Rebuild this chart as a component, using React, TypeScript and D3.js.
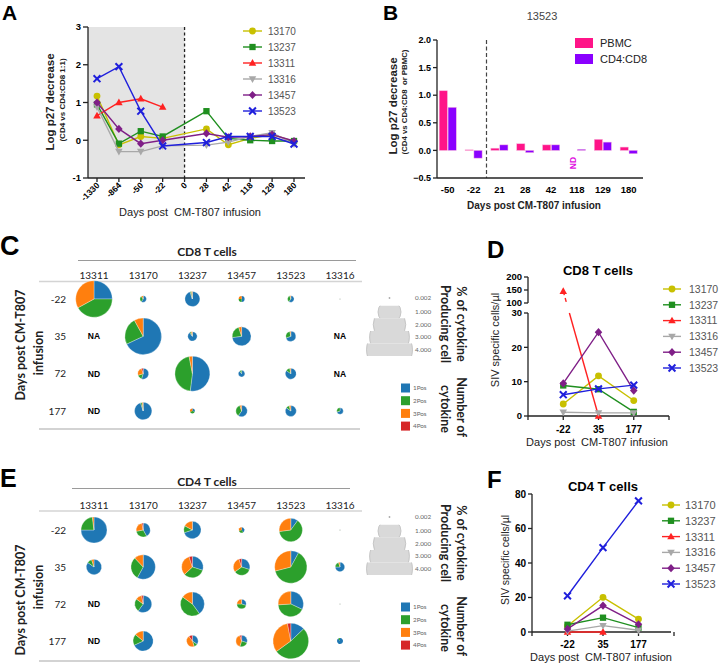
import React from "react";
import * as d3 from "d3";

const AR = "'Liberation Sans', Arial, Helvetica, sans-serif";
const CAL = "Lato, 'Open Sans', sans-serif";

// ---------- shared animals ----------
const animals = ["13170", "13237", "13311", "13316", "13457", "13523"];
const animalColors = ["#c8c000", "#1f8f1f", "#ff2222", "#a8a8a8", "#7f1f87", "#1f1fdc"];
const animalShapes = ["circle", "square", "triangle", "triangleDown", "diamond", "x"];

// ---------- Panel A ----------
const aDays = ["-1330", "-864", "-50", "-22", "0", "28", "42", "118", "129", "180"];
const a13170 = [1.17, -0.12, 0.1, 0.05, null, 0.3, -0.12, 0.05, 0.15, -0.03];
const a13237 = [0.95, -0.09, 0.24, 0.1, null, 0.77, 0.05, 0.0, -0.02, -0.02];
const a13311 = [0.65, 1.0, 1.1, 0.88, null, null, null, null, null, null];
const a13316 = [0.88, -0.3, -0.3, -0.15, null, -0.13, -0.05, 0.1, 0.2, -0.1];
const a13457 = [1.0, 0.3, -0.09, 0.0, null, 0.18, 0.08, 0.1, 0.15, -0.02];
const a13523 = [1.63, 1.95, 0.77, -0.15, null, -0.06, 0.1, 0.1, 0.1, -0.1];
const aTicks = [-1, 0, 1, 2, 3];

// ---------- Panel B ----------
const bDays = ["-50", "-22", "21", "28", "42", "118", "129", "180"];
const bSeries = ["PBMC", "CD4:CD8"];
const bColors = ["#ff1488", "#8a00ff"];
const bPBMC = [1.08, 0.01, 0.04, 0.12, 0.1, null, 0.2, 0.06];
const bCD4CD8 = [0.78, -0.14, 0.1, -0.04, 0.1, 0.02, 0.15, -0.06];
const bTicks = [-0.5, 0, 0.5, 1.0, 1.5, 2.0];

// ---------- Panels C / E ----------
const pieCols = ["13311", "13170", "13237", "13457", "13523", "13316"];
const pieRows = ["-22", "35", "72", "177"];
const mixKeys = ["1Pos", "2Pos", "3Pos", "4Pos"];
const mixColors = ["#1f77b4", "#2ca02c", "#ff7f0e", "#d62728"];
const sizeLegend = [0.002, 1, 2, 3, 4];

const cd8Pct = [
  [2.53, 0.082, 0.425, 0.068, 0.082, 0.002],
  [null, 2.53, 0.167, 0.68, 0.19, null],
  [null, 0.23, 2.32, 0.082, 0.23, null],
  [null, 0.57, 0.047, 0.25, 0.23, 0.082],
];
const cd8Note = [
  ["", "", "", "", "", ""],
  ["NA", "", "", "", "", "NA"],
  ["ND", "", "", "", "", "NA"],
  ["ND", "", "", "", "", ""],
];
const cd8Mix = [
  [[0.25, 0.42, 0.33, 0], [0.6, 0.3, 0.1, 0], [0.95, 0.03, 0.02, 0], [0.5, 0.25, 0.25, 0], [0.6, 0.35, 0.05, 0], [0.5, 0.5, 0, 0]],
  [null, [0.68, 0.24, 0.08, 0], [0.9, 0.05, 0.05, 0], [0.73, 0.22, 0.05, 0], [0.7, 0.27, 0.03, 0], null],
  [null, [0.55, 0.15, 0.25, 0.05], [0.52, 0.45, 0.03, 0], [0.9, 0.1, 0, 0], [0.85, 0.12, 0.03, 0], null],
  [null, [0.95, 0.03, 0.02, 0], [0.3, 0.4, 0.3, 0], [0.6, 0.35, 0.05, 0], [0.85, 0.1, 0.05, 0], [0.7, 0.3, 0, 0]],
];

const cd4Pct = [
  [1.28, 0.37, 0.57, 0.059, 1.03, 0.002],
  [0.45, 1.13, 0.88, 0.52, 1.98, 0.17],
  [null, 0.55, 1.09, 0.17, 1.22, 0.002],
  [null, 0.76, 0.25, 0.25, 2.4, 0.068],
];
const cd4Note = [
  ["", "", "", "", "", ""],
  ["", "", "", "", "", ""],
  ["ND", "", "", "", "", ""],
  ["ND", "", "", "", "", ""],
];
const cd4Mix = [
  [[0.75, 0.23, 0.02, 0], [0.42, 0.3, 0.25, 0.03], [0.7, 0.13, 0.17, 0], [0.4, 0.3, 0.3, 0], [0.1, 0.63, 0.27, 0], [0.5, 0.5, 0, 0]],
  [[0.85, 0.1, 0.05, 0], [0.58, 0.3, 0.12, 0], [0.3, 0.33, 0.32, 0.05], [0.3, 0.35, 0.3, 0.05], [0.08, 0.63, 0.29, 0], [0.75, 0.2, 0.05, 0]],
  [null, [0.6, 0.25, 0.12, 0.03], [0.4, 0.45, 0.15, 0], [0.3, 0.45, 0.25, 0], [0.32, 0.42, 0.26, 0], [0.5, 0.5, 0, 0]],
  [null, [0.68, 0.18, 0.14, 0], [0.35, 0.1, 0.45, 0.1], [0.3, 0.25, 0.4, 0.05], [0.13, 0.52, 0.32, 0.03], [0.9, 0.1, 0, 0]],
];

// ---------- Panels D / F ----------
const dfDays = ["-22", "35", "177"];
const d13170 = [3.5, 11.7, 4.5];
const d13237 = [8.9, 7.8, 1.2];
const d13311 = [145, 0, null];
const d13316 = [1.1, 0.9, 0.9];
const d13457 = [9.5, 24.4, 7.4];
const d13523 = [6.2, 7.9, 9.0];
const dLowTicks = [0, 10, 20, 30];
const dHighTicks = [100, 150, 200];

const f13170 = [3.5, 20.1, 7.5];
const f13237 = [4.2, 8.3, 2.5];
const f13311 = [0, 0, null];
const f13316 = [0.5, 3.7, 1.0];
const f13457 = [1.8, 15.3, 4.5];
const f13523 = [21, 48.9, 76];
const fTicks = [0, 20, 40, 60, 80];

const PRE: React.CSSProperties = { whiteSpace: "pre" };

// ---------- helpers ----------
function Marker({ shape, x, y, color, s = 1 }: { shape: string; x: number; y: number; color: string; s?: number }) {
  const k = 3.6 * s;
  switch (shape) {
    case "circle":
      return <circle cx={x} cy={y} r={k} fill={color} />;
    case "square":
      return <rect x={x - k * 0.92} y={y - k * 0.92} width={k * 1.84} height={k * 1.84} fill={color} />;
    case "triangle":
      return <path d={`M${x},${y - k * 1.15}L${x + k * 1.1},${y + k * 0.8}L${x - k * 1.1},${y + k * 0.8}Z`} fill={color} />;
    case "triangleDown":
      return <path d={`M${x},${y + k * 1.15}L${x + k * 1.1},${y - k * 0.8}L${x - k * 1.1},${y - k * 0.8}Z`} fill={color} />;
    case "diamond":
      return <path d={`M${x},${y - k * 1.2}L${x + k * 1.1},${y}L${x},${y + k * 1.2}L${x - k * 1.1},${y}Z`} fill={color} />;
    default:
      return (
        <path
          d={`M${x - k},${y - k}L${x + k},${y + k}M${x + k},${y - k}L${x - k},${y + k}`}
          stroke={color}
          strokeWidth={2}
          fill="none"
        />
      );
  }
}

const lineGen = d3.line<[number, number]>();

// ---------- Panel A ----------
function PanelA() {
  const x = d3.scalePoint<string>().domain(aDays).range([97, 294]);
  const y = d3.scaleLinear().domain([-1, 3]).range([178, 27]);
  const xl = 88;
  const xr = 305;
  const series = [a13170, a13237, a13311, a13316, a13457, a13523];
  const legY = d3.scalePoint<string>().domain(animals).range([31, 111]);
  return (
    <g fontFamily={AR}>
      <text x={2} y={20} fontSize={21} fontWeight="bold">A</text>
      <rect x={xl} y={y(3)} width={(x("0") as number) - xl} height={y(-1) - y(3)} fill="#e4e4e4" />
      <line x1={x("0")} x2={x("0")} y1={y(3)} y2={y(-1)} stroke="#222" strokeWidth={1.3} strokeDasharray="3,2.5" />
      <line x1={xl} x2={xl} y1={y(3)} y2={y(-1)} stroke="#222" strokeWidth={1.3} />
      {aTicks.map((t) => (
        <g key={t}>
          <line x1={xl - 5} x2={xl} y1={y(t)} y2={y(t)} stroke="#222" strokeWidth={1.3} />
          <text x={xl - 7} y={y(t)} dy="0.35em" textAnchor="end" fontSize={9.5} fontWeight="bold">{t}</text>
        </g>
      ))}
      <line x1={xl} x2={xr} y1={y(-1)} y2={y(-1)} stroke="#222" strokeWidth={1.3} />
      {aDays.map((d) => (
        <g key={d}>
          <line x1={x(d)} x2={x(d)} y1={y(-1)} y2={y(-1) + 4} stroke="#222" strokeWidth={1.3} />
          <text
            transform={`translate(${(x(d) as number) + 3},${186}) rotate(-45)`}
            textAnchor="end"
            fontSize={8.5}
            fontWeight="bold"
          >
            {d}
          </text>
        </g>
      ))}
      <text x={190} y={216} textAnchor="middle" fontSize={11} fill="#222" style={PRE}>{"Days post  CM-T807 infusion"}</text>
      <text transform={`translate(54,102) rotate(-90)`} textAnchor="middle" fontSize={11.5} fontWeight="bold" fill="#222">
        Log p27 decrease
      </text>
      <text transform={`translate(65,100) rotate(-90)`} textAnchor="middle" fontSize={8} fontWeight="bold" fill="#222">
        (CD4 vs CD4:CD8 1:1)
      </text>
      {series.map((vals, si) => {
        const pts: [number, number][] = [];
        vals.forEach((v, i) => {
          if (v !== null) pts.push([x(aDays[i]) as number, y(v)]);
        });
        return (
          <g key={si}>
            <path d={lineGen(pts) || ""} fill="none" stroke={animalColors[si]} strokeWidth={1.4} />
            {pts.map((p, i) => (
              <Marker key={i} shape={animalShapes[si]} x={p[0]} y={p[1]} color={animalColors[si]} s={0.95} />
            ))}
          </g>
        );
      })}
      {animals.map((a, i) => (
        <g key={a}>
          <line x1={243} x2={262} y1={legY(a)} y2={legY(a)} stroke={animalColors[i]} strokeWidth={1.4} />
          <Marker shape={animalShapes[i]} x={252.5} y={legY(a) as number} color={animalColors[i]} s={0.95} />
          <text x={268} y={legY(a)} dy="0.36em" fontSize={10} fill="#555">{a}</text>
        </g>
      ))}
    </g>
  );
}

// ---------- Panel B ----------
function PanelB() {
  const x = d3.scaleBand<string>().domain(bDays).range([434.8, 641.6]).paddingInner(0.34).paddingOuter(0.17);
  const sub = d3.scaleBand<string>().domain(bSeries).range([0, x.bandwidth()]).paddingInner(0.08);
  const y = d3.scaleLinear().domain([-0.5, 2]).range([178, 40]);
  const xl = 437;
  const xr = 643;
  const dashX = (x("21") as number) - (x.step() - x.bandwidth()) / 2;
  const data = [bPBMC, bCD4CD8];
  return (
    <g fontFamily={AR}>
      <text x={383} y={20} fontSize={21} fontWeight="bold">B</text>
      <text x={542} y={20} textAnchor="middle" fontSize={11} fill="#444">13523</text>
      {data.map((vals, si) =>
        vals.map((v, i) =>
          v === null ? null : (
            <rect
              key={`${si}-${i}`}
              x={(x(bDays[i]) as number) + (sub(bSeries[si]) as number)}
              y={Math.min(y(v), y(0))}
              width={sub.bandwidth()}
              height={Math.abs(y(v) - y(0))}
              fill={bColors[si]}
              stroke="#f6b0dc"
              strokeWidth={0.5}
            />
          )
        )
      )}
      <text
        transform={`translate(${(x("118") as number) + (sub("PBMC") as number) + sub.bandwidth() / 2 + 3},${163}) rotate(-90)`}
        textAnchor="middle"
        fontSize={8.5}
        fontWeight="bold"
        fill="#e010e0"
      >
        ND
      </text>
      <line x1={dashX} x2={dashX} y1={y(2)} y2={y(-0.5)} stroke="#444" strokeWidth={1.2} strokeDasharray="4,2.5" />
      <line x1={xl} x2={xl} y1={y(2)} y2={y(-0.5)} stroke="#222" strokeWidth={1.3} />
      {bTicks.map((t) => (
        <g key={t}>
          <line x1={xl - 4} x2={xl} y1={y(t)} y2={y(t)} stroke="#222" strokeWidth={1.3} />
          <text x={xl - 6} y={y(t)} dy="0.35em" textAnchor="end" fontSize={9} fontWeight="bold">{d3.format(".1f")(t)}</text>
        </g>
      ))}
      <line x1={xl} x2={xr} y1={y(-0.5)} y2={y(-0.5)} stroke="#222" strokeWidth={1.3} />
      {bDays.map((d) => (
        <text key={d} x={(x(d) as number) + x.bandwidth() / 2} y={193} textAnchor="middle" fontSize={9.5} fontWeight="bold">
          {d}
        </text>
      ))}
      <text x={534} y={209} textAnchor="middle" fontSize={10} fontWeight="bold" fill="#222">Days post CM-T807 infusion</text>
      <text transform={`translate(397,106) rotate(-90)`} textAnchor="middle" fontSize={11.5} fontWeight="bold" fill="#222">
        Log p27 decrease
      </text>
      <text transform={`translate(407,102) rotate(-90)`} textAnchor="middle" fontSize={7.8} fontWeight="bold" fill="#222" style={PRE}>
        {"(CD4 vs CD4:CD8  or PBMC)"}
      </text>
      {bSeries.map((s, i) => (
        <g key={s}>
          <rect x={575} y={38 + i * 16} width={18} height={10} fill={bColors[i]} />
          <text x={600} y={43 + i * 16} dy="0.36em" fontSize={11} fill="#222">{s}</text>
        </g>
      ))}
    </g>
  );
}

// ---------- Pie panels ----------
const rScale = d3.scaleSqrt().domain([0, 4]).range([0, 23]);
const pieGen = d3.pie<number>().sort(null).value((d) => d);

function PiePanel(props: {
  letter: string;
  letterY: number;
  letterSize: number;
  title: string;
  titleY: number;
  titleLine: [number, number, number];
  headerY: number;
  headerLineY: number;
  rowY: [number, number];
  bottomLineY: number;
  pct: (number | null)[][];
  mix: (number[] | null)[][];
  notes: string[][];
  legendTop: number;
  yTitleY: [number, number];
  id: string;
}) {
  const { pct, mix, notes } = props;
  const x = d3.scalePoint<string>().domain(pieCols).range([94, 340]);
  const y = d3.scalePoint<string>().domain(pieRows).range(props.rowY);
  const arc = d3.arc<d3.PieArcDatum<number>>().innerRadius(0);
  const L = props.legendTop;
  const band = 12.6;
  const lcx = 389.5;
  return (
    <g>
      <text x={0} y={props.letterY} fontSize={props.letterSize} fontWeight="bold" fontFamily={AR}>{props.letter}</text>
      <text x={207} y={props.titleY} textAnchor="middle" fontSize={12} fontWeight="bold" fontFamily={CAL} fill="#222">
        {props.title}
      </text>
      <line x1={props.titleLine[0]} x2={props.titleLine[1]} y1={props.titleLine[2]} y2={props.titleLine[2]} stroke="#9a9a9a" strokeWidth={1} />
      {pieCols.map((c) => (
        <text key={c} x={x(c)} y={props.headerY} textAnchor="middle" fontSize={10} fontFamily={CAL} fill="#222">{c}</text>
      ))}
      <line x1={39} x2={362} y1={props.headerLineY} y2={props.headerLineY} stroke="#d4d4d4" strokeWidth={1.5} />
      <line x1={39} x2={360} y1={props.bottomLineY} y2={props.bottomLineY} stroke="#c4c4c4" strokeWidth={1.3} />
      {pieRows.map((r) => (
        <text key={r} x={66} y={y(r)} dy="0.35em" textAnchor="end" fontSize={10} fontFamily={CAL} fill="#222">{r}</text>
      ))}
      <text transform={`translate(24.5,${props.yTitleY[0]}) rotate(-90)`} textAnchor="middle" fontSize={12.5} fontWeight="bold" fontFamily={CAL} fill="#222">
        Days post CM-T807
      </text>
      <text transform={`translate(42.5,${props.yTitleY[1]}) rotate(-90)`} textAnchor="middle" fontSize={12.5} fontWeight="bold" fontFamily={CAL} fill="#222">
        infusion
      </text>
      {pieRows.map((r, ri) =>
        pieCols.map((c, ci) => {
          const v = pct[ri][ci];
          const m = mix[ri][ci];
          const cx = x(c) as number;
          const cy = y(r) as number;
          if (v === null || m === null) {
            return notes[ri][ci] ? (
              <text key={`${r}-${c}`} x={cx} y={cy} dy="0.35em" textAnchor="middle" fontSize={8.5} fontWeight="bold" fontFamily={AR}>
                {notes[ri][ci]}
              </text>
            ) : null;
          }
          const rad = rScale(v);
          return (
            <g key={`${r}-${c}`} transform={`translate(${cx},${cy})`}>
              {pieGen(m).map((a, k) =>
                a.value > 0 ? (
                  <path key={k} d={arc.outerRadius(rad)(a) || ""} fill={rad < 1 ? "#8a9a8a" : mixColors[k]} stroke="#fff" strokeWidth={rad > 3 ? 0.3 : 0} />
                ) : null
              )}
            </g>
          );
        })
      )}
      <defs>
        {sizeLegend.slice(1).map((v, i) => (
          <clipPath key={v} id={`${props.id}-clip-${i}`}>
            <rect x={lcx - 30} y={L + 7.7 + i * band} width={60} height={band} />
          </clipPath>
        ))}
      </defs>
      <circle cx={lcx} cy={L} r={0.9} fill="#aaa" />
      {sizeLegend.slice(1).map((v, i) => (
        <circle
          key={v}
          cx={lcx}
          cy={L + 7.7 + i * band + band / 2}
          r={rScale(v)}
          fill="#d9d9d9"
          stroke="#bdbdbd"
          strokeWidth={0.8}
          clipPath={`url(#${props.id}-clip-${i})`}
        />
      ))}
      {sizeLegend.map((v, i) => (
        <text key={v} x={415} y={i === 0 ? L : L + 7.7 + (i - 1) * band + band / 2} dy="0.35em" fontSize={6.3} fontFamily={CAL} fill="#666">
          {d3.format(".3f")(v)}
        </text>
      ))}
      <text transform={`translate(456.5,${L + 26}) rotate(90)`} textAnchor="middle" fontSize={12.5} fontWeight="bold" fontFamily={CAL} fill="#222">
        % of cytokine
      </text>
      <text transform={`translate(441,${L + 26}) rotate(90)`} textAnchor="middle" fontSize={12.5} fontWeight="bold" fontFamily={CAL} fill="#222">
        Producing cell
      </text>
      {mixKeys.map((k, i) => (
        <g key={k}>
          <rect x={401} y={L + 90 - 4.5 + i * 12.7} width={9} height={9} fill={mixColors[i]} />
          <text x={413} y={L + 90 + i * 12.7} dy="0.35em" fontSize={6.3} fontFamily={CAL} fill="#666">{k}</text>
        </g>
      ))}
      <text transform={`translate(456.5,${L + 109}) rotate(90)`} textAnchor="middle" fontSize={12.5} fontWeight="bold" fontFamily={CAL} fill="#222">
        Number of
      </text>
      <text transform={`translate(441,${L + 111}) rotate(90)`} textAnchor="middle" fontSize={12.5} fontWeight="bold" fontFamily={CAL} fill="#222">
        cytokine
      </text>
    </g>
  );
}

// ---------- Line panels D / F ----------
function LegendDF({ x0, tx, y0, fs }: { x0: number; tx: number; y0: number; fs: number }) {
  const ly = d3.scalePoint<string>().domain(animals).range([y0, y0 + 79]);
  return (
    <g>
      {animals.map((a, i) => (
        <g key={a}>
          <line x1={x0 - 9} x2={x0 + 9} y1={ly(a)} y2={ly(a)} stroke={animalColors[i]} strokeWidth={1.4} />
          <Marker shape={animalShapes[i]} x={x0} y={ly(a) as number} color={animalColors[i]} s={0.95} />
          <text x={tx} y={ly(a)} dy="0.36em" fontSize={fs} fill="#555">{a}</text>
        </g>
      ))}
    </g>
  );
}

function PanelD() {
  const x = d3.scalePoint<string>().domain(dfDays).range([528, 669]).padding(1);
  const yLow = d3.scaleLinear().domain([0, 30]).range([416, 313]);
  const yHigh = d3.scaleLinear().domain([100, 200]).range([303, 277]);
  const yv = (v: number) => (v <= 30 ? yLow(v) : yHigh(v));
  const xl = 528;
  const xr = 669;
  const series = [d13170, d13237, d13311, d13316, d13457, d13523];
  const step = x.step();
  return (
    <g fontFamily={AR}>
      <text x={487} y={258} fontSize={24} fontWeight="bold">D</text>
      <text x={598} y={275} textAnchor="middle" fontSize={13} fontWeight="bold">CD8 T cells</text>
      <line x1={xl} x2={xl} y1={yLow(30)} y2={yLow(0)} stroke="#222" strokeWidth={1.3} />
      <line x1={xl} x2={xl} y1={yHigh(200)} y2={yHigh(100)} stroke="#222" strokeWidth={1.3} />
      {dLowTicks.map((t) => (
        <g key={t}>
          <line x1={xl - 4} x2={xl} y1={yLow(t)} y2={yLow(t)} stroke="#222" strokeWidth={1.3} />
          <text x={xl - 6} y={yLow(t)} dy="0.35em" textAnchor="end" fontSize={9.5} fontWeight="bold">{t}</text>
        </g>
      ))}
      {dHighTicks.map((t) => (
        <g key={t}>
          <line x1={xl - 4} x2={xl} y1={yHigh(t)} y2={yHigh(t)} stroke="#222" strokeWidth={1.3} />
          <text x={xl - 6} y={yHigh(t)} dy="0.35em" textAnchor="end" fontSize={9.5} fontWeight="bold">{t}</text>
        </g>
      ))}
      <line x1={xl} x2={xr} y1={yLow(0)} y2={yLow(0)} stroke="#222" strokeWidth={1.3} />
      {[0, 1, 2, 3, 4].map((i) => (
        <line key={i} x1={xl + i * step} x2={xl + i * step} y1={yLow(0)} y2={yLow(0) + 4} stroke="#222" strokeWidth={1.3} />
      ))}
      {dfDays.map((d) => (
        <text key={d} x={x(d)} y={433} textAnchor="middle" fontSize={10} fontWeight="bold">{d}</text>
      ))}
      <text x={597} y={446} textAnchor="middle" fontSize={11} fill="#222" style={PRE}>{"Days post  CM-T807 infusion"}</text>
      <text transform={`translate(499,340) rotate(-90)`} textAnchor="middle" fontSize={11} fill="#222">SIV specific cells/µl</text>
      {series.map((vals, si) => {
        const pts: [number, number][] = [];
        vals.forEach((v, i) => {
          if (v !== null) pts.push([x(dfDays[i]) as number, yv(v)]);
        });
        let paths: React.ReactNode;
        if (pts.length === 2 && vals[0] !== null && (vals[0] as number) > 30) {
          const [p1, p2] = pts;
          const at = (yy: number): [number, number] => [p1[0] + ((yy - p1[1]) / (p2[1] - p1[1])) * (p2[0] - p1[0]), yy];
          paths = (
            <>
              <path d={lineGen([p1, at(yHigh(100))]) || ""} stroke={animalColors[si]} strokeWidth={1.4} strokeDasharray="4,3" fill="none" />
              <path d={lineGen([at(yLow(30)), p2]) || ""} stroke={animalColors[si]} strokeWidth={1.4} fill="none" />
            </>
          );
        } else {
          paths = <path d={lineGen(pts) || ""} fill="none" stroke={animalColors[si]} strokeWidth={1.4} />;
        }
        return (
          <g key={si}>
            {paths}
            {pts.map((p, i) => (
              <Marker key={i} shape={animalShapes[si]} x={p[0]} y={p[1]} color={animalColors[si]} s={0.95} />
            ))}
          </g>
        );
      })}
      <LegendDF x0={672} tx={689} y0={289} fs={10.5} />
    </g>
  );
}

function PanelF() {
  const x = d3.scalePoint<string>().domain(dfDays).range([532, 674]).padding(1);
  const y = d3.scaleLinear().domain([0, 80]).range([632, 494]);
  const xl = 532;
  const xr = 671;
  const series = [f13170, f13237, f13311, f13316, f13457, f13523];
  const step = x.step();
  return (
    <g fontFamily={AR}>
      <text x={487} y={488} fontSize={24} fontWeight="bold">F</text>
      <text x={603} y={491} textAnchor="middle" fontSize={13} fontWeight="bold">CD4 T cells</text>
      <line x1={xl} x2={xl} y1={y(80)} y2={y(0)} stroke="#222" strokeWidth={1.3} />
      {fTicks.map((t) => (
        <g key={t}>
          <line x1={xl - 4} x2={xl} y1={y(t)} y2={y(t)} stroke="#222" strokeWidth={1.3} />
          <text x={xl - 6} y={y(t)} dy="0.35em" textAnchor="end" fontSize={10} fontWeight="bold">{t}</text>
        </g>
      ))}
      <line x1={xl} x2={xr} y1={y(0)} y2={y(0)} stroke="#222" strokeWidth={1.3} />
      {[0, 1, 2, 3, 4].map((i) => (
        <line key={i} x1={xl + i * step} x2={xl + i * step} y1={y(0)} y2={y(0) + 4} stroke="#222" strokeWidth={1.3} />
      ))}
      {dfDays.map((d) => (
        <text key={d} x={x(d)} y={648} textAnchor="middle" fontSize={10} fontWeight="bold">{d}</text>
      ))}
      <text x={601} y={661} textAnchor="middle" fontSize={11} fill="#222" style={PRE}>{"Days post  CM-T807 infusion"}</text>
      <text transform={`translate(509,560) rotate(-90)`} textAnchor="middle" fontSize={10.5} fill="#222">SIV specific cells/µl</text>
      {series.map((vals, si) => {
        const pts: [number, number][] = [];
        vals.forEach((v, i) => {
          if (v !== null) pts.push([x(dfDays[i]) as number, y(v)]);
        });
        return (
          <g key={si}>
            <path d={lineGen(pts) || ""} fill="none" stroke={animalColors[si]} strokeWidth={1.4} />
            {pts.map((p, i) => (
              <Marker key={i} shape={animalShapes[si]} x={p[0]} y={p[1]} color={animalColors[si]} s={0.95} />
            ))}
          </g>
        );
      })}
      <LegendDF x0={671} tx={685} y0={505} fs={11} />
    </g>
  );
}

export default function App() {
  return (
    <div style={{ position: "absolute", left: 0, top: 0 }}>
      <svg width={720} height={666} viewBox="0 0 720 666" style={{ display: "block", background: "#fff" }}>
        <PanelA />
        <PanelB />
        <PiePanel
          id="c"
          letter="C"
          letterY={255}
          letterSize={27}
          title="CD8 T cells"
          titleY={256}
          titleLine={[78, 356, 260.5]}
          headerY={278.5}
          headerLineY={281.5}
          rowY={[299, 411]}
          bottomLineY={429}
          pct={cd8Pct}
          mix={cd8Mix}
          notes={cd8Note}
          legendTop={298}
          yTitleY={[345, 353]}
        />
        <PiePanel
          id="e"
          letter="E"
          letterY={487}
          letterSize={25}
          title="CD4 T cells"
          titleY={486}
          titleLine={[72, 350, 488.5]}
          headerY={509}
          headerLineY={511}
          rowY={[530, 641]}
          bottomLineY={661}
          pct={cd4Pct}
          mix={cd4Mix}
          notes={cd4Note}
          legendTop={517}
          yTitleY={[600, 587]}
        />
        <PanelD />
        <PanelF />
      </svg>
    </div>
  );
}
